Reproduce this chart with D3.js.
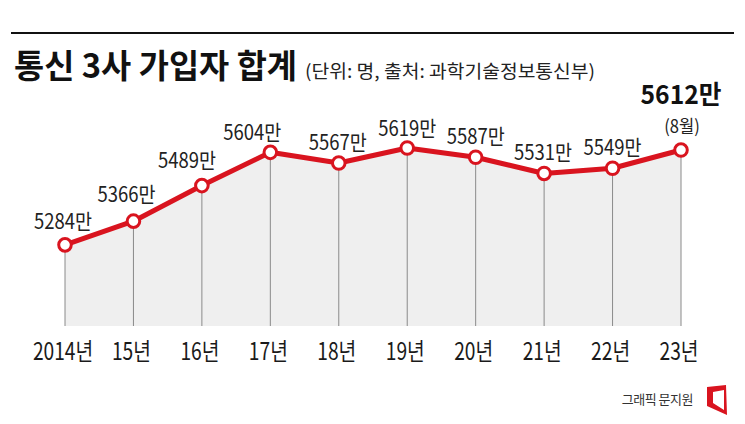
<!DOCTYPE html>
<html><head><meta charset="utf-8">
<script src="https://cdn.jsdelivr.net/npm/d3@7"></script>
<style>
html,body{margin:0;padding:0;background:#fff;}
svg{display:block;}
text{font-family:"Noto Sans CJK KR","Noto Sans",sans-serif;}
</style></head>
<body>
<svg id="chart" width="745" height="424"></svg>
<script>
const categories = ["2014년","15년","16년","17년","18년","19년","20년","21년","22년","23년"];
const values = [5284,5366,5489,5604,5567,5619,5587,5531,5549,5612];
const valueLabels = ["5284만","5366만","5489만","5604만","5567만","5619만","5587만","5531만","5549만","5612만"];
const lastNote = "(8월)";
const titleText = "통신 3사 가입자 합계";
const subtitleText = "(단위: 명, 출처: 과학기술정보통신부)";
const creditText = "그래픽 문지원";

// layout (not data)
const labelDx = [-2,-7,-15,-18,-1,0,0,-1,0];
const labelDy = [-16,-19,-18,-12,-13,-12,-13,-13,-13];

const svg = d3.select("#chart");
const red = "#d9141f";

svg.append("line").attr("x1",11).attr("x2",734).attr("y1",33).attr("y2",33)
  .attr("stroke","#111").attr("stroke-width",2);

svg.append("text").attr("x",14).attr("y",78)
  .attr("font-size",33).attr("font-weight",700).attr("fill","#111")
  .attr("textLength",283).attr("lengthAdjust","spacingAndGlyphs")
  .text(titleText);
svg.append("text").attr("x",305).attr("y",78)
  .attr("font-size",18).attr("fill","#222")
  .attr("textLength",290).attr("lengthAdjust","spacingAndGlyphs")
  .text(subtitleText);

const x = d3.scalePoint().domain(categories).range([65,681]);
const y = d3.scaleLinear().domain([5000,5619]).range([327,148]);
const base = 326;

const data = categories.map((c,i)=>({c, v: values[i], l: valueLabels[i]}));

svg.append("path").datum(data)
  .attr("fill","#efefef")
  .attr("d", d3.area().x(d=>x(d.c)).y0(base).y1(d=>y(d.v)));

svg.selectAll("line.grid").data(data).join("line").attr("class","grid")
  .attr("x1",d=>x(d.c)).attr("x2",d=>x(d.c))
  .attr("y1",d=>y(d.v)).attr("y2",base)
  .attr("stroke","#8a8a8a").attr("stroke-width",1);

svg.append("path").datum(data)
  .attr("fill","none").attr("stroke",red).attr("stroke-width",5)
  .attr("stroke-linejoin","round")
  .attr("d", d3.line().x(d=>x(d.c)).y(d=>y(d.v)));

svg.selectAll("circle.pt").data(data).join("circle").attr("class","pt")
  .attr("cx",d=>x(d.c)).attr("cy",d=>y(d.v)).attr("r",6.3)
  .attr("fill","#fff").attr("stroke",red).attr("stroke-width",3);

svg.selectAll("text.vl").data(data.slice(0,-1)).join("text").attr("class","vl")
  .attr("transform",(d,i)=>`translate(${x(d.c)+labelDx[i]},${y(d.v)+labelDy[i]}) scale(0.88,1)`)
  .attr("text-anchor","middle").attr("font-size",21).attr("fill","#222")
  .text(d=>d.l);

const last = data[data.length-1];
svg.append("text")
  .attr("transform",`translate(${x(last.c)},104) scale(0.95,1)`)
  .attr("text-anchor","middle").attr("font-size",26).attr("font-weight",700)
  .attr("fill","#111").text(last.l);
svg.append("text")
  .attr("transform",`translate(${x(last.c)+1},133) scale(0.92,1)`)
  .attr("text-anchor","middle").attr("font-size",18).attr("fill","#222")
  .text(lastNote);

svg.selectAll("text.xl").data(categories).join("text").attr("class","xl")
  .attr("transform",d=>`translate(${x(d)-2},360) scale(0.8,1)`)
  .attr("text-anchor","middle").attr("font-size",24).attr("fill","#1a1a1a")
  .text(d=>d);

svg.append("text").attr("x",693).attr("y",404)
  .attr("text-anchor","end").attr("font-size",13).attr("fill","#333")
  .attr("letter-spacing",-0.5)
  .text(creditText);

svg.append("path")
  .attr("d","M707,387 L726,385 L727,415 L707,406 Z M713,392 L724,390 L724,410 L713,403 Z")
  .attr("fill",red).attr("fill-rule","evenodd");
</script>
</body></html>
